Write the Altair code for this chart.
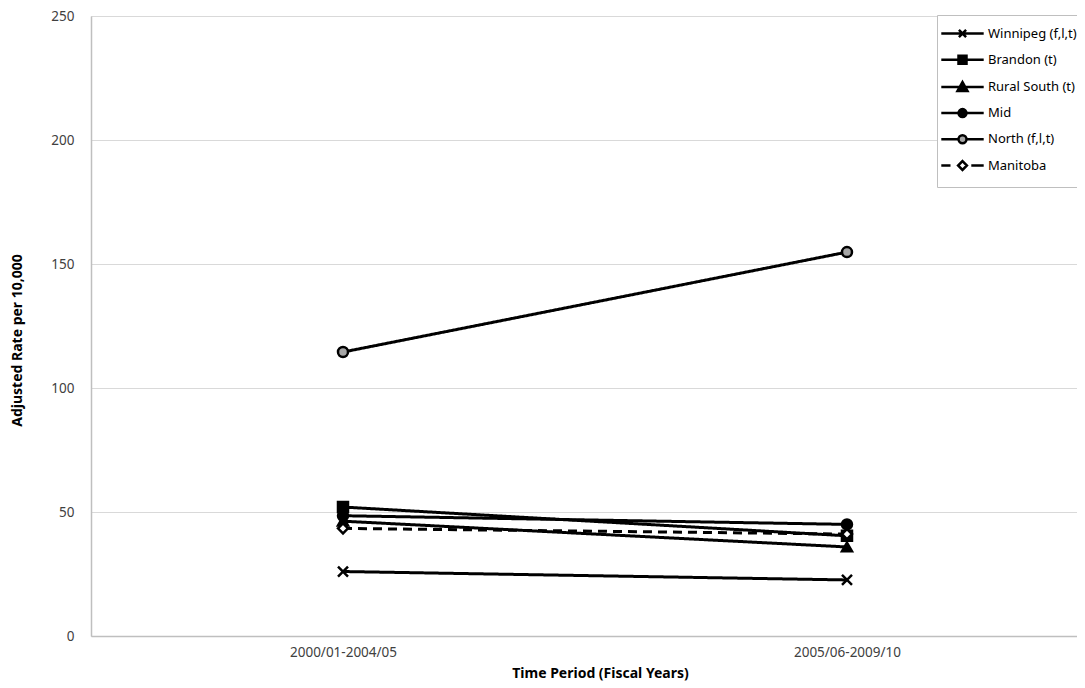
import altair as alt
import pandas as pd

periods = ["2000/01-2004/05", "2005/06-2009/10"]
series = ["Winnipeg (f,l,t)", "Brandon (t)", "Rural South (t)", "Mid", "North (f,l,t)", "Manitoba"]
winnipeg = [26.0, 22.6]
brandon = [52.0, 40.4]
rural_south = [46.3, 35.9]
mid = [48.5, 45.0]
north = [114.5, 154.8]
manitoba = [43.4, 41.1]

values = [winnipeg, brandon, rural_south, mid, north, manitoba]
rows = []
for name, vals in zip(series, values):
    for p, v in zip(periods, vals):
        rows.append({"period": p, "series": name, "value": v})
df = pd.DataFrame(rows)

FONT = "Noto Sans"
fills = ["black", "black", "black", "black", "#a6a6a6", "white"]
marker_shapes = ["M-1,-1L1,1M-1,1L1,-1", "square", "triangle-up", "circle", "circle", "diamond"]
L = 5.3
seg = f"M-{L},0H-1M1,0H{L}"
circ = "M1,0A1,1,0,1,1,-1,0A1,1,0,1,1,1,0Z"
legend_paths = [
    f"M-{L},0H{L}M-0.9,-0.9L0.9,0.9M-0.9,0.9L0.9,-0.9",
    f"M-{L},0H{L}M-1,-1H1V1H-1Z",
    f"M-{L},0H{L}M0,-1.2L1.25,1L-1.25,1Z",
    seg + circ,
    seg + circ,
    f"M-{L},0H-3M2.2,0H{L}M0,-1.1L1.1,0L0,1.1L-1.1,0Z",
]

xscale = alt.Scale(type="point", padding=0.4782, align=0.5228)
x_enc = alt.X("period:N", sort=periods, scale=xscale,
              axis=alt.Axis(title="Time Period (Fiscal Years)", labelAngle=0, ticks=False,
                            labelPadding=9, titlePadding=8, grid=False, titleX=509,
                            domainColor="#bfbfbf", domainWidth=1.5,
                            labelFont=FONT, labelFontSize=13.5, labelColor="#404040",
                            titleFont=FONT, titleFontSize=14, titleFontWeight="bold",
                            titleColor="black"))
y_enc = alt.Y("value:Q", scale=alt.Scale(domain=[0, 250], nice=False),
              axis=alt.Axis(title="Adjusted Rate per 10,000", values=[0, 50, 100, 150, 200, 250],
                            ticks=False, labelPadding=17, titlePadding=26, titleY=324,
                            domainColor="#bfbfbf", domainWidth=1.5, gridColor="#d9d9d9",
                            labelFont=FONT, labelFontSize=13.5, labelColor="#404040",
                            titleFont=FONT, titleFontSize=14, titleFontWeight="bold",
                            titleColor="black"))

lines = alt.Chart(df).mark_line(strokeWidth=3, color="black").encode(
    x=x_enc, y=y_enc,
    detail="series:N",
    strokeDash=alt.StrokeDash("series:N",
                              scale=alt.Scale(domain=series, range=[[1, 0]] * 5 + [[9, 6]]),
                              legend=None),
)

points = alt.Chart(df).mark_point(filled=True, stroke="black", strokeWidth=2.5, size=100, opacity=1).encode(
    x=x_enc, y=y_enc,
    shape=alt.Shape("series:N", scale=alt.Scale(domain=series, range=marker_shapes), legend=None),
    fill=alt.Fill("series:N", scale=alt.Scale(domain=series, range=fills), legend=None),
)

leg = dict(title=None, orient="none", legendX=846, legendY=-1, direction="vertical",
           symbolSize=64, symbolStrokeWidth=2.5, symbolStrokeColor="black", symbolOpacity=1,
           symbolOffset=7, labelOffset=19, labelFont=FONT, labelFontSize=13, labelColor="black",
           rowPadding=7.2, padding=12, strokeColor="#bfbfbf", fillColor="white", labelLimit=300)

carrier = alt.Chart(df).mark_point(filled=True, strokeWidth=2.5, opacity=0).encode(
    x=x_enc, y=y_enc,
    shape=alt.Shape("series:N", scale=alt.Scale(domain=series, range=legend_paths),
                    legend=alt.Legend(**leg)),
    fill=alt.Fill("series:N", scale=alt.Scale(domain=series, range=fills),
                  legend=alt.Legend(**leg)),
    stroke=alt.Stroke("series:N", scale=alt.Scale(domain=series, range=["black"] * 6),
                      legend=alt.Legend(**leg)),
)

chart = alt.layer(lines, points, carrier).resolve_scale(
    shape="independent", fill="independent", stroke="independent"
).properties(
    width=986, height=620,
    autosize=alt.AutoSizeParams(type="none"),
    padding={"left": 83, "top": 8, "right": 0, "bottom": 46},
).configure_view(stroke=None).configure(background="white")

chart.save("out.html", embed_options={"renderer": "svg", "actions": False})
